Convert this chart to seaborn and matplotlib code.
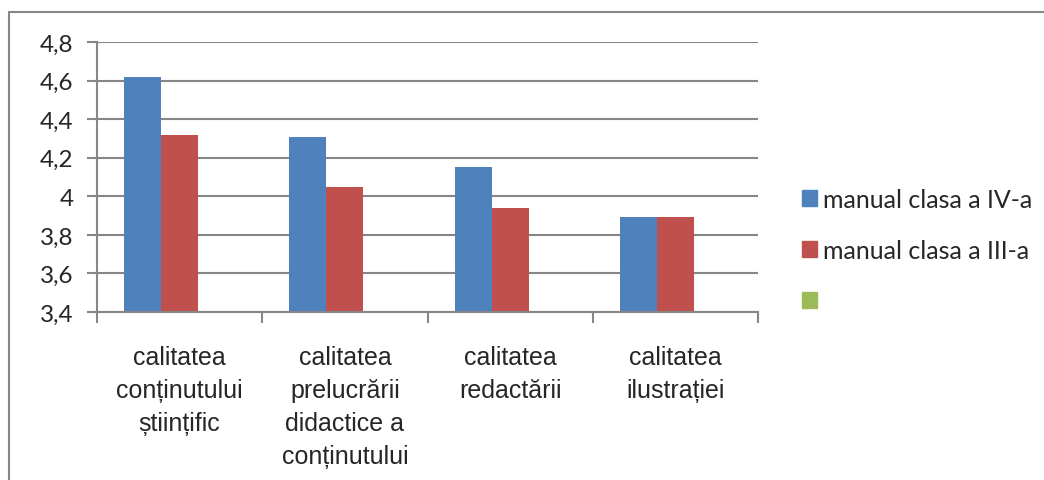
import matplotlib
matplotlib.use("Agg")
import matplotlib.pyplot as plt
import seaborn as sns
import pandas as pd
import numpy as np
from matplotlib.patches import Patch
from matplotlib.lines import Line2D

categories = ["calitatea\nconținutului\nștiințific",
              "calitatea\nprelucrării\ndidactice a\nconținutului",
              "calitatea\nredactării",
              "calitatea\nilustrației"]
series_names = ["manual clasa a IV-a", "manual clasa a III-a", " "]
values_iv = [4.62, 4.31, 4.15, 3.89]
values_iii = [4.32, 4.05, 3.94, 3.89]
values_empty = [np.nan, np.nan, np.nan, np.nan]
y_ticks = [3.4, 3.6, 3.8, 4.0, 4.2, 4.4, 4.6, 4.8]
y_tick_labels = ["3,4", "3,6", "3,8", "4", "4,2", "4,4", "4,6", "4,8"]
colors = ["#4F81BD", "#C0504D", "#9BBB59"]

df = pd.DataFrame({
    "cat": categories * 3,
    "serie": [series_names[0]] * 4 + [series_names[1]] * 4 + [series_names[2]] * 4,
    "val": values_iv + values_iii + values_empty,
})

sns.set_style("white")
plt.rcParams["font.family"] = ["Lato", "DejaVu Sans"]

fig = plt.figure(figsize=(10.44, 4.81), dpi=100)
ax = fig.add_axes([97/1044, 1-313/481, (758-97)/1044, (313-43)/481])

sns.barplot(data=df, x="cat", y="val", hue="serie", hue_order=series_names,
            order=categories, palette=colors, width=0.673, ax=ax, legend=False,
            saturation=1, linewidth=0)

grid_c = "#868686"
ax.set_ylim(3.4, 4.8)
ax.set_xlim(-0.5, 3.5)
ax.set_yticks(y_ticks)
ax.set_yticklabels(y_tick_labels, fontsize=17.5)
ax.yaxis.grid(True, color=grid_c, linewidth=1.5)
ax.set_axisbelow(True)
for s in ["top", "right"]:
    ax.spines[s].set_visible(False)
for s in ["left", "bottom"]:
    ax.spines[s].set_color(grid_c)
    ax.spines[s].set_linewidth(1.5)
ax.tick_params(axis="y", length=7, width=1.5, color=grid_c, pad=10, left=True)
ax.set_xticks([0, 1, 2, 3])
ax.set_xticklabels(categories, fontsize=18, family=["Liberation Sans", "DejaVu Sans"],
                   linespacing=1.47, va="top")
ax.tick_params(axis="x", length=0, pad=24)
ax.set_xticks([-0.5, 0.5, 1.5, 2.5, 3.5], minor=True)
ax.tick_params(axis="x", which="minor", length=8, width=1.5, color=grid_c, bottom=True)
ax.set_xlabel("")
ax.set_ylabel("")

handles = [Patch(color=c, label=n) for c, n in zip(colors, series_names)]
fig.legend(handles=handles, loc="center left", bbox_to_anchor=(779/1044, 1-251.5/481),
           frameon=False, fontsize=18, handlelength=0.6, handleheight=0.6,
           handletextpad=0.25, labelspacing=1.12)

# outer chart border (left and top visible)
fig.add_artist(Line2D([9/1044, 9/1044], [0, 1-13/481], color=grid_c, linewidth=1.5,
                      transform=fig.transFigure))
fig.add_artist(Line2D([9/1044, 1], [1-13/481, 1-13/481], color=grid_c, linewidth=1.5,
                      transform=fig.transFigure))

fig.savefig("out.png", dpi=100, facecolor="white")
